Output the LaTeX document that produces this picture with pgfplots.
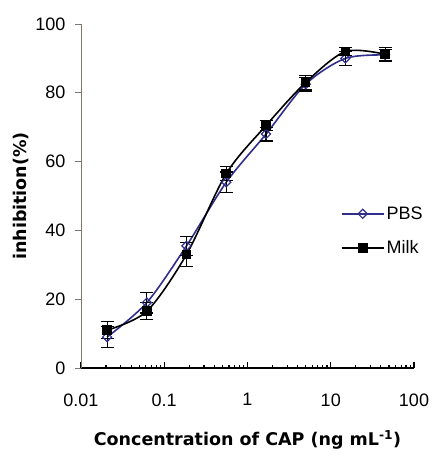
\documentclass[border=0pt]{standalone}
\usepackage{fontspec}
\setmainfont{Liberation Sans}
\newfontfamily\labelfont{DejaVu Sans}
\usepackage{pgfplots}
\pgfplotsset{compat=1.18}
\definecolor{pbsblue}{RGB}{48,48,140}
\definecolor{axgray}{RGB}{128,118,112}

\pgfplotstableread{
x      y     e
0.0206 9.0   3.0
0.0617 19.0  3.0
0.185  35.5  2.8
0.556  54.0  3.0
1.67   68.0  2.0
5      82.5  2.0
15     90.0  2.0
45     91.0  1.5
}\pbs

\pgfplotstableread{
x      y     e
0.0206 11.0  2.5
0.0617 16.5  2.5
0.185  33.0  3.5
0.556  56.5  2.0
1.67   70.5  1.5
5      83.0  2.0
15     92.0  1.2
45     91.2  2.0
}\milk

\begin{document}
\begin{tikzpicture}
\begin{axis}[
    at={(0,0)}, anchor=south west,
    scale only axis,
    width=333pt, height=344pt,
    xmode=log,
    xmin=0.01, xmax=100,
    ymin=0, ymax=100,
    axis x line=bottom, axis y line=left,
    x axis line style={-, black, line width=1.2pt},
    y axis line style={-, axgray, line width=0.9pt},
    xtick={0.01,0.1,1,10,100},
    xticklabels={0.01,0.1,1,10,100},
    ytick={0,20,40,60,80,100},
    minor xtick={}, minor ytick={},
    tick align=inside,
    major tick length=6pt,
    xtick style={black, line width=1.2pt},
    ytick style={axgray, line width=0.9pt, xshift=-6pt},
    /pgf/number format/assume math mode=true,
    tick label style={font=\fontsize{18}{18}\selectfont},
    xticklabel style={yshift=-22pt},
    yticklabel style={xshift=-12pt},
    xlabel={\labelfont\bfseries Concentration of CAP (ng mL\textsuperscript{-1})},
    ylabel={\labelfont\bfseries inhibition(\%)},
    xlabel style={at={(rel axis cs:0.5,0)}, anchor=center, yshift=-72pt, font=\fontsize{17.5}{17.5}\selectfont},
    ylabel style={at={(rel axis cs:0,0.5)}, anchor=center, yshift=60pt, font=\fontsize{17.5}{17.5}\selectfont},
    legend style={at={(rel axis cs:0.78,0.398)}, anchor=west, draw=none, fill=none,
        font=\fontsize{18}{18}\selectfont, row sep=16pt, inner sep=0pt,
        /tikz/every even column/.append style={column sep=2pt}},
    legend cell align=left,
    legend image code/.code={\draw[mark repeat=2,mark phase=2,#1] plot coordinates {(0pt,0pt) (21pt,0pt) (42pt,0pt)};},
    clip=false,
]
\addplot[pbsblue, line width=1.6pt, smooth, mark=square, mark size=3.2pt,
    mark options={fill=white, solid, rotate=45, line width=1.2pt},
    error bars/.cd, y dir=both, y explicit,
    error bar style={black, line width=1.2pt},
    error mark options={black, rotate=90, mark size=6.5pt, line width=1.2pt}]
    table[x=x, y=y, y error=e] {\pbs};
\addlegendentry{PBS}
\addplot[black, line width=1.6pt, smooth, mark=square*, mark size=4pt,
    mark options={solid},
    error bars/.cd, y dir=both, y explicit,
    error bar style={black, line width=1.2pt},
    error mark options={black, rotate=90, mark size=6.5pt, line width=1.2pt}]
    table[x=x, y=y, y error=e] {\milk};
\addlegendentry{Milk}
\end{axis}
\pgfresetboundingbox
\path (-81pt,-93pt) rectangle (354pt,368pt);
\end{tikzpicture}
\end{document}
